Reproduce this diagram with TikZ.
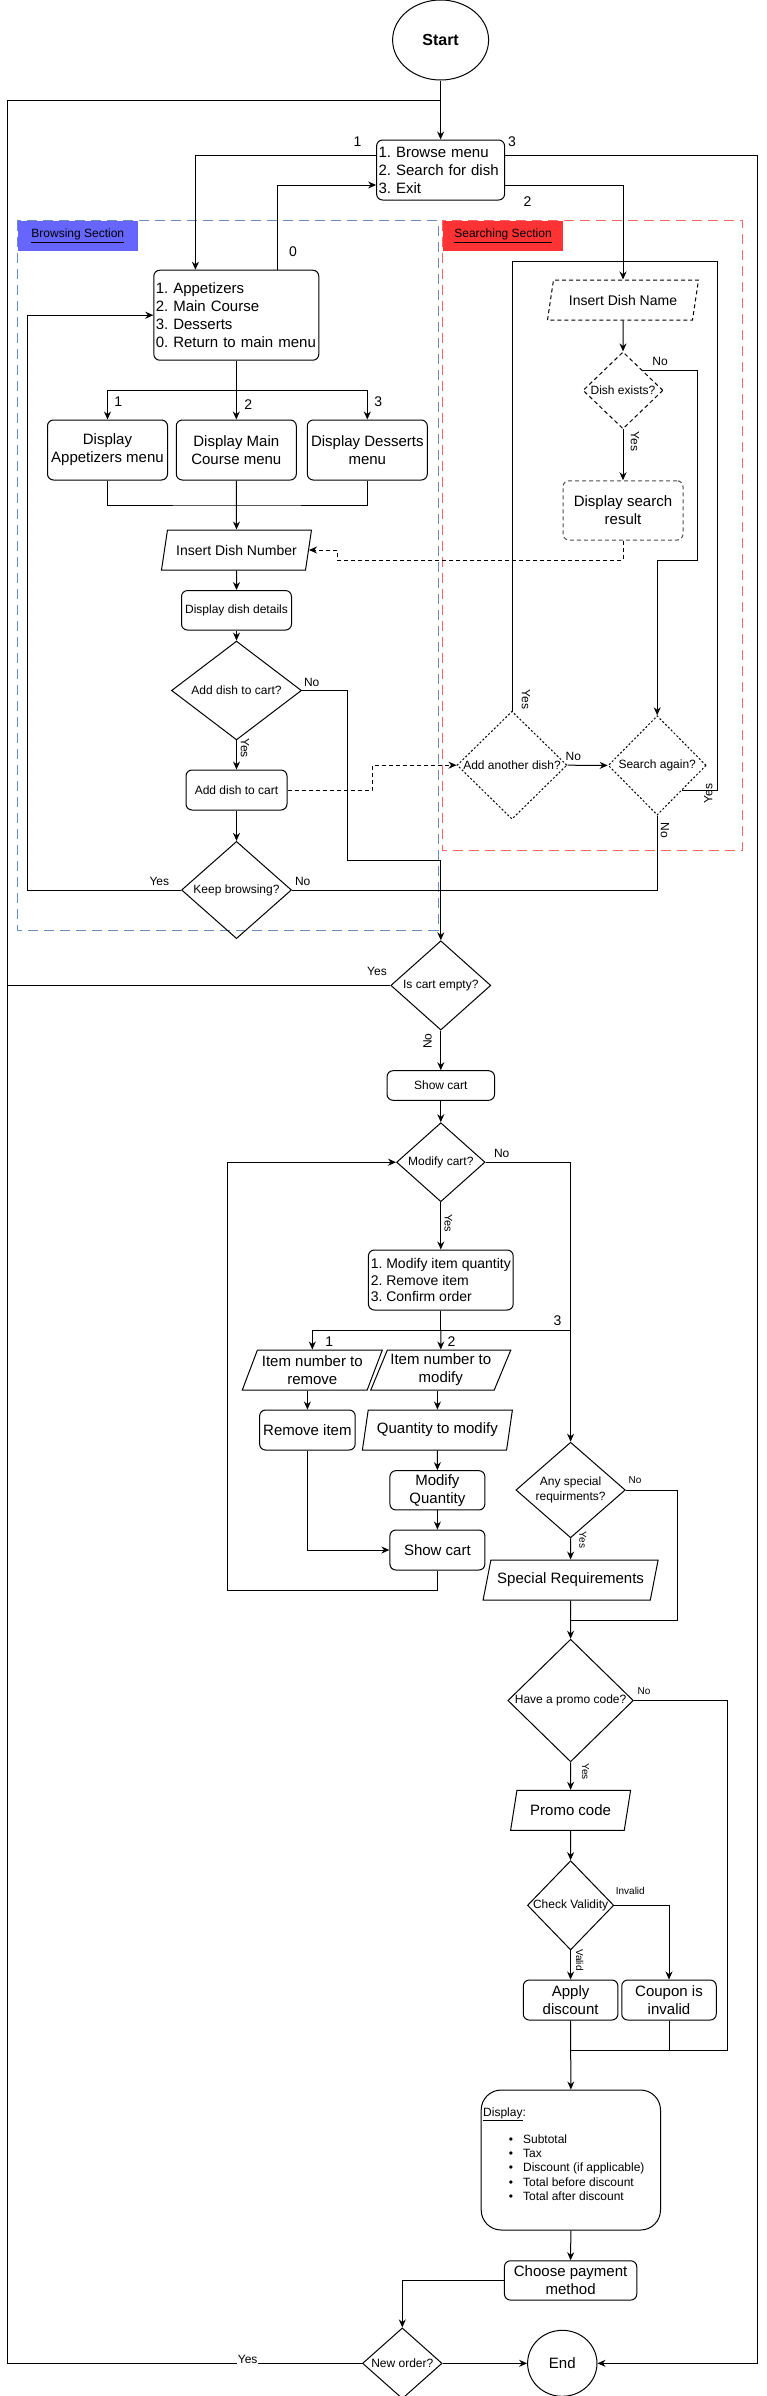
\documentclass[tikz,border=0pt]{standalone}
\usepackage{fontspec}
\setmainfont{Liberation Sans}
\usetikzlibrary{shapes.geometric,arrows.meta}

\definecolor{brwfill}{HTML}{6666FF}
\definecolor{brwline}{HTML}{6C8EBF}
\definecolor{srcfill}{HTML}{FF3333}
\definecolor{srcline}{HTML}{FF6666}

\tikzset{
  f10/.style={font=\fontsize{10}{12}\selectfont},
  f11/.style={font=\fontsize{11}{13.2}\selectfont},
  f12/.style={font=\fontsize{12}{14.4}\selectfont\frenchspacing},
  f14/.style={font=\fontsize{14}{16.8}\selectfont\frenchspacing},
  f15/.style={font=\fontsize{15}{18}\selectfont\frenchspacing},
  box/.style={draw, rounded corners=6pt, align=center, inner sep=2pt},
  menu/.style={box, align=left, execute at begin node={\hyphenpenalty=10000}},
  io/.style={draw, trapezium, trapezium left angle=64, trapezium right angle=116,
    trapezium stretches body, align=center, inner sep=1pt, minimum height=40pt},
  dec/.style={draw, diamond, inner sep=0pt, align=center, f12},
  arr/.style={-{Stealth[length=8pt,width=7pt]}},
  dsh/.style={dash pattern=on 4pt off 3pt},
  dotline/.style={dash pattern=on 2pt off 2pt},
  sect/.style={dash pattern=on 10pt off 6pt},
}

\begin{document}
\begin{tikzpicture}[x=1pt, y=-1pt, line width=1pt]
\useasboundingbox (0,0) rectangle (766,2396);

% sections
\draw[sect, brwline] (17.3,220.7) rectangle (438,930);
\node[fill=brwfill, anchor=north west, minimum width=120pt, minimum height=29.3pt, inner sep=0pt, f12] (brw) at (17.3,220.7) {\underline{Browsing Section}};
\draw[sect, srcline] (442.3,220.7) rectangle (742.7,850);
\node[fill=srcfill, anchor=north west, minimum width=120.5pt, minimum height=29.3pt, inner sep=0pt, f12] (src) at (442.3,220.7) {\underline{Searching Section}};

% main menu
\node[draw, ellipse, minimum width=96pt, minimum height=80pt, font=\fontsize{16}{19}\selectfont\bfseries] (start) at (440.6,40) {Start};
\node[menu, f15, text width=124pt, minimum height=60pt] (mm) at (440.6,170) {1. Browse menu\\2. Search for dish\\3. Exit};

% browsing
\node[menu, f15, text width=161pt, minimum height=90pt] (cat) at (236.3,315.2) {1. Appetizers\\2. Main Course\\3. Desserts\\0. Return to main menu};
\node[box, f15, minimum width=120pt, minimum height=60pt] (dap) at (107.5,450) {Display\\Appetizers menu};
\node[box, f15, minimum width=120pt, minimum height=60pt] (dmc) at (236.3,450) {Display Main\\Course menu};
\node[box, f15, minimum width=120pt, minimum height=60pt] (dds) at (367.3,450) {Display Desserts\\menu};
\node[io, f14, minimum width=150pt] (inum) at (236.5,550) {Insert Dish Number};
\node[box, f12, minimum width=110pt, minimum height=39.5pt] (ddd) at (236.5,610.3) {Display dish details};
\node[dec, minimum width=130pt, minimum height=79pt] (adc) at (236.5,690.5) {Add dish to cart?};
\node[box, f12, minimum width=101pt, minimum height=40pt] (atc) at (236.5,790) {Add dish to cart};
\node[dec, minimum width=110pt, minimum height=80pt] (kb) at (236.5,890) {Keep browsing?};

% searching
\node[io, dsh, f14, minimum width=151pt] (idn) at (623,300) {Insert Dish Name};
\node[dec, dsh, minimum width=80pt, minimum height=77pt] (dex) at (623,390.4) {Dish exists?};
\node[box, dsh, draw=black!70, f15, minimum width=120pt, minimum height=59.3pt] (dsr) at (623,510.4) {Display search\\result};
\node[dec, dotline, minimum width=110pt, minimum height=108pt] (aad) at (512,765.2) {Add another dish?};
\node[dec, dotline, minimum width=98pt, minimum height=99.3pt] (sa) at (657.2,765.4) {Search again?};

% cart
\node[dec, minimum width=100pt, minimum height=89.3pt] (ice) at (440.8,985.4) {Is cart empty?};
\node[box, f12, minimum width=107.5pt, minimum height=29.6pt] (sc1) at (440.8,1085.5) {Show cart};
\node[dec, minimum width=88.5pt, minimum height=79pt] (mc) at (440.8,1162.2) {Modify cart?};
\node[box, f14, align=left, minimum width=144.8pt, minimum height=60pt] (cm) at (440.8,1280) {1. Modify item quantity\\2. Remove item\\3. Confirm order};
\node[io, f15, minimum width=140pt] (inr) at (312.3,1370) {Item number to\\remove};
\node[io, f15, minimum width=140pt] (inm) at (440.8,1370) {Item number to\\modify};
\node[box, f15, minimum width=95.6pt, minimum height=40pt] (ri) at (307.4,1430) {Remove item};
\node[io, f15, minimum width=150pt, trapezium left angle=70, trapezium right angle=110] (qm) at (437.4,1430) {Quantity to modify};
\node[box, f15, minimum width=95pt, minimum height=39.3pt] (mq) at (437.4,1490.3) {Modify\\Quantity};
\node[box, f15, minimum width=95pt, minimum height=40pt] (sc2) at (437.4,1550) {Show cart};

% checkout
\node[dec, minimum width=109.4pt, minimum height=78.6pt] (asr) at (570.6,1490) {Any special\\requirments?};
\node[io, f15, minimum width=175pt] (spr) at (570.6,1580) {Special Requirements};
\node[dec, minimum width=125.6pt, minimum height=119pt] (hpc) at (570.6,1700.5) {Have a promo code?};
\node[io, f15, minimum width=120pt] (pc) at (570.6,1810.3) {Promo code};
\node[dec, minimum width=86pt, minimum height=89.3pt] (cv) at (570.6,1905.3) {Check Validity};
\node[box, f15, minimum width=94.6pt, minimum height=40pt] (ad) at (570.6,2000) {Apply\\discount};
\node[box, f15, minimum width=94.5pt, minimum height=40pt] (ci) at (669,2000) {Coupon is\\invalid};
\node[box, rounded corners=20pt, minimum width=179.3pt, minimum height=140pt] (dsp) at (570.85,2160) {};
\node[f12, anchor=north west, inner sep=0pt, align=left] (dspt) at (482.7,2107.5) {\underline{Display}:\\[11.9pt]
  \hspace*{25.7pt}\textbullet\hspace{10pt}Subtotal\\
  \hspace*{25.7pt}\textbullet\hspace{10pt}Tax\\
  \hspace*{25.7pt}\textbullet\hspace{10pt}Discount (if applicable)\\
  \hspace*{25.7pt}\textbullet\hspace{10pt}Total before discount\\
  \hspace*{25.7pt}\textbullet\hspace{10pt}Total after discount};
\node[box, f15, minimum width=132.3pt, minimum height=39.3pt] (cpm) at (570.6,2280.4) {Choose payment\\method};
\node[dec, minimum width=79.6pt, minimum height=60pt] (nwo) at (402.3,2363.3) {New order?};
\node[draw, ellipse, f15, minimum width=69.4pt, minimum height=66pt] (fin) at (562.3,2363.3) {End};

% junctions
\coordinate (jtop) at (440.6,100);
\coordinate (jleft) at (7.3,985.4);
\coordinate (jsrch) at (623,261);
\coordinate (jcat) at (236.3,390.7);
\coordinate (jmrg) at (236.3,505);
\coordinate (jcart) at (440.8,1330.7);
\coordinate (j3) at (570.6,1330.7);
\coordinate (jspr) at (570.6,1620);
\coordinate (jdisc) at (570.6,2050);

% main menu links
\draw[arr] (start.south) -- (mm.north);
\draw[arr] ([yshift=15pt]mm.west) -| ([xshift=-40.9pt]cat.north);
\draw[arr] ([xshift=41.2pt]cat.north) |- ([yshift=-15pt]mm.west);
\draw[arr] ([yshift=-15pt]mm.east) -| (idn.north);
\draw[arr] ([yshift=15pt]mm.east) -| (757,2363.3) -- (fin.east);
\node[f14] (l1) at (357.6,142) {1};
\node[f14] (l3) at (512,142) {3};
\node[f14] (l2) at (527.6,202) {2};
\node[f14] (l0) at (293,252) {0};

% browsing links
\draw[arr] (cat.south) -- (dmc.north);
\draw[arr] (jcat) -| (dap.north);
\draw[arr] (jcat) -| (dds.north);
\node[f14] (la1) at (118.3,401.7) {1};
\node[f14] (la2) at (248.3,405) {2};
\node[f14] (la3) at (378.3,401.7) {3};
\draw (dap.south) |- (jmrg) -| (dds.south);
\draw[arr] (dmc.south) -- (inum.north);
\draw[arr] (inum.south) -- (ddd.north);
\draw[arr] (ddd.south) -- (adc.north);
\draw[arr] (adc.south) -- (atc.north);
\node[f12, rotate=-90] (adcyes) at (245,748) {Yes};
\draw[arr] (adc.east) -| (347.7,860) -| (ice.north);
\node[f12] (adcno) at (311.7,682.3) {No};
\draw[arr] (atc.south) -- (kb.north);
\draw[arr] (kb.west) -- (27.3,890) |- (cat.west);
\node[f12] (kbyes) at (159.3,881.7) {Yes};
\draw (sa.south) |- (kb.east);
\node[f12] (kbno) at (302.7,881.7) {No};
\draw[dsh, arr] (atc.east) -- (372,790) |- (aad.west);

% searching links
\draw[arr] (idn.south) -- (dex.north);
\draw[arr] (dex.south) -- (dsr.north);
\node[f12, rotate=-90] (dexyes) at (635,441.7) {Yes};
\draw[arr] (dex.north east) -| (697,560) -| (sa.north);
\node[f12] (dexno) at (660,361.7) {No};
\draw[dsh, arr] (dsr.south) |- (337.7,560) |- (inum.east);
\draw[arr] (aad.east) -- (sa.west);
\node[f12] (aadno) at (573.3,756.7) {No};
\draw (aad.north) |- (jsrch);
\node[f12, rotate=-90] (aadyes) at (526,699.3) {Yes};
\draw (sa.south east) -| (717,261) -- (jsrch);
\node[f12, rotate=90] (sayes) at (708.3,793.3) {Yes};
\node[f12, rotate=-90] (sano) at (665,830) {No};

% cart links
\draw (ice.west) -- (jleft);
\node[f12] (iceyes) at (377,971) {Yes};
\draw[arr] (ice.south) -- (sc1.north);
\node[f12, rotate=90] (iceno) at (427.5,1041) {No};
\draw[arr] (sc1.south) -- (mc.north);
\draw[arr] (mc.south) -- (cm.north);
\node[f11, rotate=-90] (mcyes) at (448.4,1223.3) {Yes};
\draw[arr] (mc.east) -| (asr.north);
\node[f12] (mcno) at (501.7,1153.3) {No};
\draw (cm.south) -- (jcart) -- (j3);
\draw[arr] (jcart) -| (inr.north);
\draw[arr] (jcart) -- (inm.north);
\node[f14] (lc1) at (329.2,1341.7) {1};
\node[f14] (lc2) at (451.6,1341.7) {2};
\node[f14] (lc3) at (557.4,1320.7) {3};
\draw[arr] (ri.north |- inr.south) -- (ri.north);
\draw[arr] (qm.north |- inm.south) -- (qm.north);
\draw[arr] (qm.south) -- (mq.north);
\draw[arr] (mq.south) -- (sc2.north);
\draw[arr] (ri.south) |- (sc2.west);
\draw[arr] (sc2.south) |- (227.8,1590) |- (mc.west);

% checkout links
\draw[arr] (asr.south) -- (spr.north);
\node[f10, rotate=-90] (asryes) at (582.7,1540) {Yes};
\draw (asr.east) -| (677.6,1620) -- (jspr);
\node[f10] (asrno) at (635,1480) {No};
\draw[arr] (spr.south) -- (hpc.north);
\draw (hpc.east) -| (727.8,2050) -- (jdisc);
\node[f10] (hpcno) at (644,1691) {No};
\draw[arr] (hpc.south) -- (pc.north);
\node[f10, rotate=-90] (hpcyes) at (585.6,1771.7) {Yes};
\draw[arr] (pc.south) -- (cv.north);
\draw[arr] (cv.south) -- (ad.north);
\node[f10, rotate=-90] (cvval) at (579.8,1960) {Valid};
\draw[arr] (cv.east) -| (ci.north);
\node[f10] (cvinv) at (630.3,1891) {Invalid};
\draw (ci.south) |- (jdisc);
\draw[arr] (ad.south) -- (dsp.north);
\draw[arr] (dsp.south) -- (cpm.north);
\draw[arr] (cpm.west) -| (nwo.north);
\draw[arr] (nwo.east) -- (fin.west);
\draw (nwo.west) -| (7.3,100) -- (jtop);
\node[f12, fill=white, inner sep=1pt] (nwoyes) at (247.7,2359) {Yes};
\end{tikzpicture}
\end{document}
